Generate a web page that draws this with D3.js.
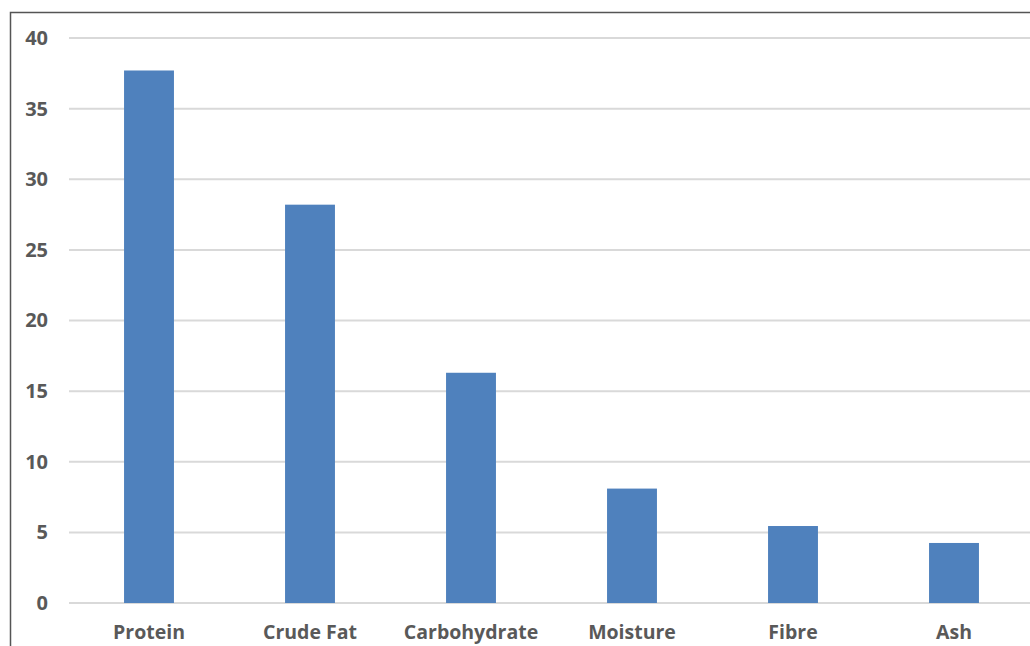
<!DOCTYPE html>
<html><head><meta charset="utf-8">
<script src="https://cdn.jsdelivr.net/npm/d3@7"></script>
<style>body{margin:0;background:#fff}svg{display:block}</style>
</head><body>
<svg id="c" width="1030" height="646"></svg>
<script>
const categories = ["Protein","Crude Fat","Carbohydrate","Moisture","Fibre","Ash"];
const values = [37.7, 28.2, 16.3, 8.1, 5.45, 4.25];
const yTicks = [0,5,10,15,20,25,30,35,40];

const svg = d3.select("#c");
// frame
svg.append("path").attr("d","M10.5,646 V12.5 H1030").attr("fill","none").attr("stroke","#555").attr("stroke-width",1.5);

const x = d3.scaleBand().domain(categories).range([68.5,1034.5]).paddingInner(0.69).paddingOuter(0.345);
const y = d3.scaleLinear().domain([0,40]).range([603,38]);

const grid = svg.append("g");
grid.selectAll("line").data(yTicks).join("line")
  .attr("x1",69).attr("x2",1030).attr("y1",d=>y(d)).attr("y2",d=>y(d))
  .attr("stroke","#d9d9d9").attr("stroke-width",2);

svg.append("g").selectAll("rect").data(values).join("rect")
  .attr("x",(d,i)=>x(categories[i])).attr("width",x.bandwidth())
  .attr("y",d=>y(d)).attr("height",d=>y(0)-y(d)).attr("fill","#4f81bd");

const yAxis = svg.append("g").attr("transform","translate(48,0)")
  .call(d3.axisLeft(y).tickValues(yTicks).tickSize(0).tickPadding(0));
yAxis.select(".domain").remove();
yAxis.selectAll("text").attr("font-family","'Open Sans'").attr("font-weight",700).attr("font-size",20).attr("fill","#595959");

const xAxis = svg.append("g").attr("transform","translate(0,603)")
  .call(d3.axisBottom(x).tickSize(0).tickPadding(22));
xAxis.select(".domain").remove();
xAxis.selectAll("text").attr("font-family","'Open Sans'").attr("font-weight",700).attr("font-size",19.5).attr("fill","#595959");
</script>
</body></html>
